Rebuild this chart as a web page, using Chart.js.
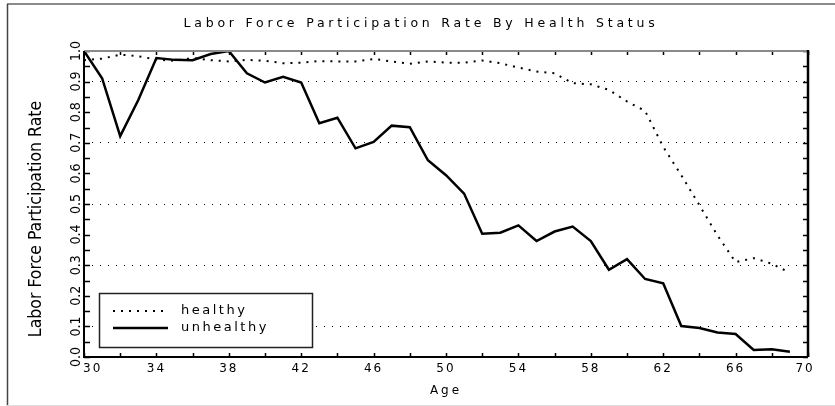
<!DOCTYPE html>
<html>
<head>
<meta charset="utf-8">
<script src="https://cdn.jsdelivr.net/npm/chart.js@4/dist/chart.umd.min.js"></script>
<style>
  html, body { margin: 0; padding: 0; background: #fff; }
  #wrap { width: 835px; height: 406px; }
</style>
</head>
<body>
<div id="wrap"><canvas id="c" width="835" height="406"></canvas></div>
<script>
// ---- data ----
const chartTitle = 'Labor Force Participation Rate By Health Status';
const xTitle = 'Age';
const yTitle = 'Labor Force Participation Rate';
const ages = [30,31,32,33,34,35,36,37,38,39,40,41,42,43,44,45,46,47,48,49,
              50,51,52,53,54,55,56,57,58,59,60,61,62,63,64,65,66,67,68,69];
const healthy = [0.970,0.975,0.988,0.983,0.972,0.968,0.977,0.970,0.966,0.971,
                 0.968,0.960,0.962,0.967,0.966,0.966,0.974,0.966,0.958,0.966,
                 0.962,0.962,0.969,0.960,0.946,0.933,0.927,0.895,0.891,0.873,
                 0.835,0.804,0.687,0.594,0.496,0.397,0.310,0.323,0.305,0.275];
const unhealthy = [1.000,0.911,0.722,0.840,0.977,0.971,0.970,0.990,1.000,0.927,
                   0.897,0.916,0.897,0.764,0.782,0.682,0.703,0.756,0.751,0.643,
                   0.594,0.534,0.403,0.406,0.430,0.379,0.410,0.426,0.379,0.285,
                   0.320,0.255,0.241,0.101,0.095,0.080,0.075,0.023,0.025,0.017];
const seriesNames = ['healthy', 'unhealthy'];
const xMin = 30, xMax = 70, xStep = 2, xLabelStep = 4;
const yMin = 0, yMax = 1, yStep = 0.05;

// ---- styling ----
const WIDE = "'DejaVu Sans', sans-serif";
const NARROW = "'Liberation Sans Narrow', 'DejaVu Sans Condensed', sans-serif";

function withSpacing(fn, spacing) {
  return function (...args) {
    const c = this.ctx;
    const old = c.letterSpacing;
    c.letterSpacing = spacing;
    const r = fn.apply(this, args);
    c.letterSpacing = old;
    return r;
  };
}

const framePlugin = {
  id: 'framePlugin',
  beforeDraw(chart) {
    const ctx = chart.ctx;
    ctx.save();
    ctx.fillStyle = '#fff';
    ctx.fillRect(0, 0, chart.width, chart.height);
    // outer figure border
    ctx.strokeStyle = '#8a8a8a';
    ctx.lineWidth = 2;
    ctx.beginPath(); ctx.moveTo(7, 4); ctx.lineTo(chart.width, 4); ctx.stroke();
    ctx.strokeStyle = '#444';
    ctx.lineWidth = 1.5;
    ctx.beginPath(); ctx.moveTo(7.5, 4); ctx.lineTo(7.5, chart.height); ctx.stroke();
    ctx.strokeStyle = '#e0e0e0';
    ctx.lineWidth = 1;
    ctx.beginPath(); ctx.moveTo(7, chart.height - 0.5); ctx.lineTo(chart.width, chart.height - 0.5); ctx.stroke();

    // chart title
    ctx.fillStyle = '#000';
    ctx.font = '12.5px ' + WIDE;
    ctx.letterSpacing = '3.8px';
    ctx.textAlign = 'left';
    ctx.textBaseline = 'middle';
    const tw = ctx.measureText(chartTitle).width;
    ctx.fillText(chartTitle, 421 - tw / 2, 24);
    ctx.letterSpacing = '0px';
    ctx.restore();

    // letter spacing for the wide vector-like font
    const sx = chart.scales.x, sy = chart.scales.y;
    if (!sx._lsPatched) {
      sx.drawLabels = withSpacing(sx.drawLabels, '2px');
      sx.drawTitle = withSpacing(sx.drawTitle, '3px');
      sx._lsPatched = true;
    }
    if (!sy._lsPatched) {
      sy.drawTitle = withSpacing(sy.drawTitle, '0px');
      sy._lsPatched = true;
    }
  },
  afterDatasetsDraw(chart) {
    const ctx = chart.ctx;
    const a = chart.chartArea;
    const sx = chart.scales.x, sy = chart.scales.y;
    ctx.save();
    // tick marks (inward) on all four sides
    ctx.strokeStyle = '#000';
    ctx.lineWidth = 1.5;
    ctx.beginPath();
    sx.ticks.forEach(t => {
      const px = Math.round(sx.getPixelForValue(t.value)) + 0.5;
      ctx.moveTo(px, a.bottom); ctx.lineTo(px, a.bottom - 4);
      ctx.moveTo(px, a.top); ctx.lineTo(px, a.top + 4);
    });
    sy.ticks.forEach(t => {
      const py = Math.round(sy.getPixelForValue(t.value)) + 0.5;
      ctx.moveTo(a.left, py); ctx.lineTo(a.left + 6, py);
      ctx.moveTo(a.right, py); ctx.lineTo(a.right - 5, py);
    });
    ctx.stroke();

    // rotated y tick labels (read bottom-to-top), from the scale's own ticks
    ctx.fillStyle = '#000';
    ctx.font = '14px ' + NARROW;
    ctx.textAlign = 'center';
    ctx.textBaseline = 'middle';
    sy.ticks.forEach(t => {
      if (!t.label) return;
      const py = sy.getPixelForValue(t.value);
      ctx.save();
      ctx.translate(a.left - 7.5, py);
      ctx.rotate(-Math.PI / 2);
      ctx.fillText(t.label, 0, 0);
      ctx.restore();
    });

    // plot frame
    ctx.lineWidth = 2;
    ctx.strokeStyle = '#8a8a8a';
    ctx.beginPath(); ctx.moveTo(a.left, a.top); ctx.lineTo(a.right, a.top); ctx.stroke();
    ctx.strokeStyle = '#000';
    ctx.beginPath();
    ctx.moveTo(a.left, a.top); ctx.lineTo(a.left, a.bottom); ctx.lineTo(a.right, a.bottom);
    ctx.stroke();
    ctx.lineWidth = 2.5;
    ctx.beginPath(); ctx.moveTo(a.right, a.top - 1); ctx.lineTo(a.right, a.bottom); ctx.stroke();

    // legend box
    const bx = 99, by = 293, bw = 213, bh = 54;
    ctx.fillStyle = '#fff';
    ctx.fillRect(bx, by, bw, bh);
    ctx.strokeStyle = '#222';
    ctx.lineWidth = 1.5;
    ctx.strokeRect(bx + 0.5, by + 0.5, bw, bh);
    const rows = [311, 328];
    chart.data.datasets.forEach((ds, i) => {
      ctx.strokeStyle = ds.borderColor;
      ctx.lineWidth = ds.borderWidth;
      ctx.setLineDash(ds.borderDash || []);
      ctx.beginPath(); ctx.moveTo(113, rows[i]); ctx.lineTo(168, rows[i]); ctx.stroke();
      ctx.setLineDash([]);
      ctx.fillStyle = '#000';
      ctx.font = '13px ' + WIDE;
      ctx.letterSpacing = '2.5px';
      ctx.textBaseline = 'middle';
      ctx.textAlign = 'left';
      ctx.fillText(ds.label, 181, rows[i]);
      ctx.letterSpacing = '0px';
    });
    ctx.restore();
  }
};

const toPoints = vals => ages.map((a, i) => ({ x: a, y: vals[i] }));

new Chart(document.getElementById('c'), {
  type: 'line',
  data: {
    datasets: [
      { label: seriesNames[0], data: toPoints(healthy), borderColor: '#000', borderWidth: 2,
        borderDash: [2, 6], pointRadius: 0, tension: 0, fill: false },
      { label: seriesNames[1], data: toPoints(unhealthy), borderColor: '#000', borderWidth: 2.5,
        pointRadius: 0, tension: 0, fill: false, borderJoinStyle: 'miter' }
    ]
  },
  options: {
    responsive: false,
    animation: false,
    devicePixelRatio: 1,
    layout: { padding: { left: 0, right: 27, top: 51, bottom: 0 } },
    plugins: {
      legend: { display: false },
      tooltip: { enabled: false },
      title: { display: false }
    },
    scales: {
      x: {
        type: 'linear', min: xMin, max: xMax,
        afterFit: s => { s.height = 49; },
        ticks: {
          stepSize: xStep, autoSkip: false, maxRotation: 0, minRotation: 0,
          color: '#000', padding: 5,
          font: { family: WIDE, size: 12, lineHeight: 1.2 },
          callback: v => {
            if ((v - xMin) % xLabelStep !== 0) return '';
            if (v === xMin) return '   ' + v;
            if (v === xMax) return v + ' ';
            return String(v);
          }
        },
        grid: { display: false, drawTicks: false },
        border: { display: false },
        title: {
          display: true, text: xTitle, color: '#000',
          font: { family: WIDE, size: 12, lineHeight: 1.2 },
          padding: { top: 0, bottom: 7.8 }
        }
      },
      y: {
        min: yMin, max: yMax,
        afterFit: s => { s.width = 84; },
        ticks: {
          display: false,
          stepSize: yStep, autoSkip: false,
          callback: v => (Math.round(v * 100) % 10 === 0 ? v.toFixed(1) : '')
        },
        grid: {
          drawTicks: false, lineWidth: 1,
          color: c => (Math.round(c.tick.value * 100) % 20 === 10 ? '#000' : 'rgba(0,0,0,0)')
        },
        border: { display: false, dash: [1, 7] },
        title: {
          display: true, text: yTitle + '      ', color: '#000',
          font: { family: NARROW, size: 17.5, lineHeight: 1.2 },
          padding: { top: 25.5, bottom: 0 }
        }
      }
    }
  },
  plugins: [framePlugin]
});
</script>
</body>
</html>
